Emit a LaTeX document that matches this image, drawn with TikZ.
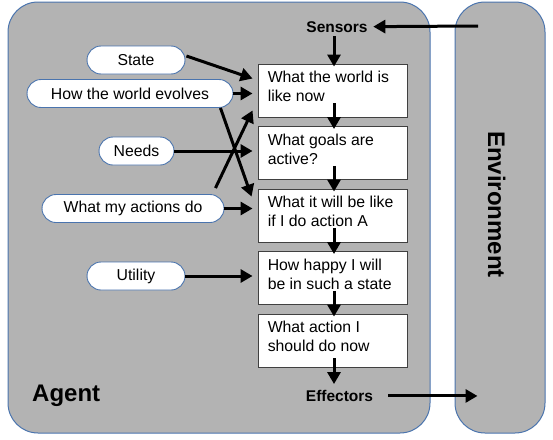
\documentclass[tikz,border=0pt]{standalone}
\usepackage{fontspec}
\setmainfont{Liberation Sans}
\usetikzlibrary{arrows.meta,calc}
\definecolor{panelgray}{HTML}{B3B3B3}
\definecolor{panelblue}{HTML}{4A74AE}
\definecolor{boxedge}{HTML}{404040}
\begin{document}
\begin{tikzpicture}[x=1pt,y=-1pt,
  panel/.style={draw=panelblue, fill=panelgray, line width=1pt, rounded corners=30pt, inner sep=0pt},
  stepbox/.style={draw=boxedge, fill=white, line width=0.9pt, minimum width=149pt, minimum height=53pt, inner sep=0pt},
  boxtext/.style={anchor=north west, inner sep=0pt, align=left, font=\fontsize{15.8}{19}\selectfont},
  pill/.style={draw=panelblue, fill=white, line width=0.9pt, rounded corners=14pt, minimum height=28pt, inner sep=0pt, font=\fontsize{15.8}{19}\selectfont},
  arr/.style={line width=3pt, -{Triangle[length=12pt,width=13pt]}},
  port/.style={font=\bfseries\fontsize{15.5}{18}\selectfont, inner sep=2pt, anchor=base},
  bigtitle/.style={font=\bfseries\fontsize{24}{28}\selectfont, inner sep=0pt},
]
\useasboundingbox (0,0) rectangle (553,439);
% panels
\node[panel, minimum width=422pt, minimum height=431pt] (agent) at (219,217.5) {};
\node[panel, minimum width=90pt, minimum height=431pt] (env) at (500,217.5) {};
\node[bigtitle, anchor=base west] (agl) at (32,401) {Agent};
\node[bigtitle, rotate=-90, anchor=base] (envl) at (488,204.5) {Environment};
% ports
\node[port] (sen) at (337,32) {Sensors};
\node[port] (eff) at (339.5,401.5) {Effectors};
% boxes
\node[stepbox] (b1) at (332.5,90.5) {};
\node[stepbox] (b2) at (332.5,153) {};
\node[stepbox] (b3) at (332.5,215.5) {};
\node[stepbox] (b4) at (332.5,278) {};
\node[stepbox] (b5) at (332.5,340.5) {};
\node[boxtext] (t1) at ($(b1.north west)+(10,7.5)$) {What the world is\\like now};
\node[boxtext] (t2) at ($(b2.north west)+(10,7.5)$) {What goals are\\active?};
\node[boxtext] (t3) at ($(b3.north west)+(10,7.5)$) {What it will be like\\if I do action A};
\node[boxtext] (t4) at ($(b4.north west)+(10,7.5)$) {How happy I will\\be in such a state};
\node[boxtext] (t5) at ($(b5.north west)+(10,7.5)$) {What action I\\should do now};
% pills
\node[pill, minimum width=98pt] (st) at (136,60) {State};
\node[pill, minimum width=206pt] (how) at (130,93.5) {How the world evolves};
\node[pill, minimum width=75pt] (nd) at (136.5,151) {Needs};
\node[pill, minimum width=182pt] (act) at (133,208.5) {What my actions do};
\node[pill, minimum width=98pt] (ut) at (136,276) {Utility};
% environment coordinates
\coordinate (envS) at (478,26);
\coordinate (envE) at ($(eff.east -| env.west)+(23,0)$);
% vertical chain
\draw[arr] ($(sen.south)+(-3,2)$) -- ($(b1.north)+(1.5,3)$);
\draw[arr] ($(b1.south)+(1.5,-14)$) -- ($(b2.north)+(1.5,3)$);
\draw[arr] ($(b2.south)+(1.5,-14)$) -- ($(b3.north)+(1.5,3)$);
\draw[arr] ($(b3.south)+(1.5,-14)$) -- ($(b4.north)+(1.5,3)$);
\draw[arr] ($(b4.south)+(1.5,-14)$) -- ($(b5.north)+(1.5,3)$);
\draw[arr] ($(b5.south)+(1.5,-9)$) -- ($(eff.north)+(-5.5,-4)$);
% environment arrows
\draw[arr, shorten >=3.5pt] (envS) -- (sen.east);
\draw[arr] ($(eff.east)+(13,0)$) -- (envE);
% pill arrows
\draw[arr] ($(st.east)+(1,-4)$) -- ($(b1.north west)+(-5,15)$);
\draw[arr, shorten >=5pt] (how.east) -- (how.east -| b1.west);
\draw[arr] ($(how.south east)+(-13,0)$) -- ($(b3.north west)+(-6,8)$);
\draw[arr, shorten >=5pt] (nd.east) -- (nd.east -| b2.west);
\draw[arr] ($(act.north east)+(-9,-6)$) -- ($(b1.south west)+(-5,-7)$);
\draw[arr, shorten >=5pt] (act.east) -- (act.east -| b3.west);
\draw[arr, shorten >=5pt] (ut.east) -- (ut.east -| b4.west);
\end{tikzpicture}
\end{document}
